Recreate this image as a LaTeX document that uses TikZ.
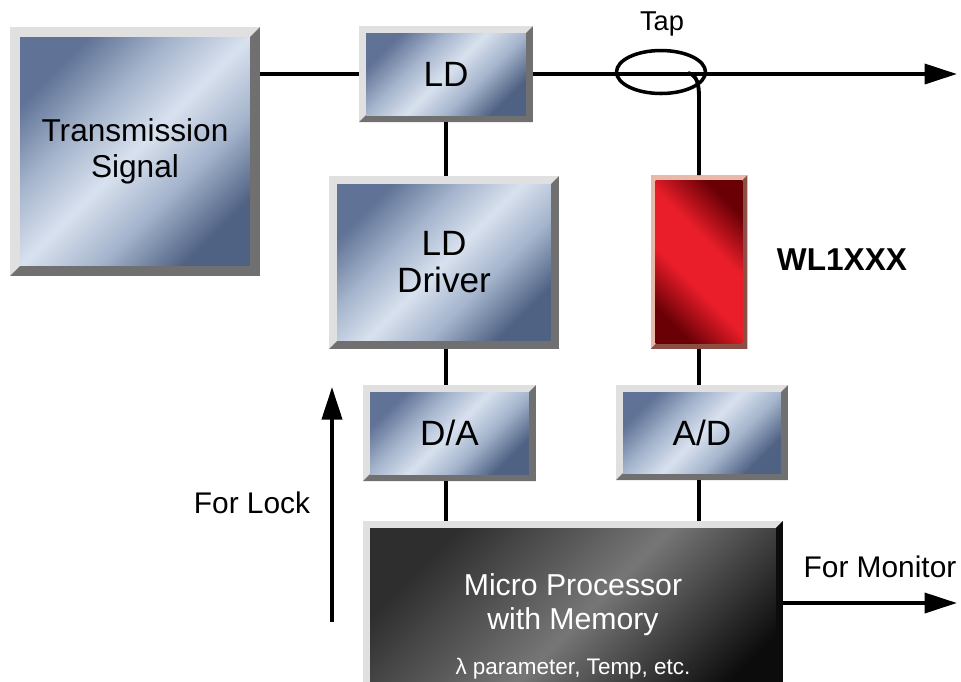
\documentclass[tikz,border=0pt]{standalone}
\usepackage{fontspec}
\setmainfont{Liberation Sans}
\usepackage{xcolor}
\usepackage{tikz}
\usetikzlibrary{arrows.meta,shapes.geometric}

\definecolor{slatedk}{RGB}{96,114,150}
\definecolor{slatedk2}{RGB}{80,98,132}
\definecolor{slatemid}{RGB}{164,180,204}
\definecolor{slatelt}{RGB}{216,225,238}
\definecolor{bevhi}{RGB}{224,224,224}
\definecolor{bevlo}{RGB}{112,112,112}
\definecolor{redbr}{RGB}{234,30,42}
\definecolor{reddk}{RGB}{106,0,6}
\definecolor{redhi}{RGB}{232,184,168}
\definecolor{redlo}{RGB}{138,78,68}
\definecolor{cpudk}{RGB}{46,46,46}
\definecolor{cpumid}{RGB}{118,118,118}
\definecolor{cpublk}{RGB}{12,12,12}

\pgfdeclareverticalshading{metal}{100bp}{color(0bp)=(slatedk2); color(25bp)=(slatedk2);
  color(38bp)=(slatemid); color(50bp)=(slatelt); color(62bp)=(slatemid);
  color(75bp)=(slatedk); color(100bp)=(slatedk)}
\pgfdeclareverticalshading{ruby}{100bp}{color(0bp)=(reddk); color(25bp)=(reddk);
  color(42bp)=(redbr); color(58bp)=(redbr); color(75bp)=(reddk); color(100bp)=(reddk)}
\pgfdeclareverticalshading{graphite}{100bp}{color(0bp)=(cpublk); color(25bp)=(cpublk);
  color(50bp)=(cpumid); color(75bp)=(cpudk); color(100bp)=(cpudk)}

\begin{document}
\begin{tikzpicture}[
    x=0.02cm, y=-0.02cm,
    font=\fontsize{17}{19}\selectfont,
    >={Triangle[length=6.5mm, width=4mm]},
    bevelw/.store in=\bevw, bevelw=1.4mm,
    hi/.store in=\hicol, hi=bevhi,
    lo/.store in=\locol, lo=bevlo,
    facefill/.style={shading=metal, shading angle=45},
    block/.style={inner sep=0pt, outer sep=0pt, align=center, fill=white,
                  font=\fontsize{20}{21}\selectfont,
                  path picture={
                    \fill[\hicol] (path picture bounding box.south west)
                      rectangle (path picture bounding box.north east);
                    \fill[\locol] (path picture bounding box.south west)
                      -- (path picture bounding box.south east)
                      -- (path picture bounding box.north east)
                      -- ([xshift=-\bevw, yshift=-\bevw]path picture bounding box.north east)
                      -- ([xshift=-\bevw, yshift=\bevw]path picture bounding box.south east)
                      -- ([xshift=\bevw, yshift=\bevw]path picture bounding box.south west)
                      -- cycle;
                    \shade[facefill] ([xshift=\bevw, yshift=\bevw]path picture bounding box.south west)
                      rectangle ([xshift=-\bevw, yshift=-\bevw]path picture bounding box.north east);
                  }},
    wire/.style={line width=2.2pt}
]
\useasboundingbox (0,0) rectangle (961,681);
\clip (0,0) rectangle (961,681);

% --- Blocks ---
\node[block, bevelw=2mm, minimum width=5cm, minimum height=4.98cm,
      font=\fontsize{18}{20.5}\selectfont] (sig) at (135,151.5) {Transmission\\Signal};
\node[block, minimum width=3.48cm, minimum height=1.92cm] (ld) at (446,74) {LD};
\node[block, bevelw=1.6mm, minimum width=4.6cm, minimum height=3.46cm] (drv) at (444,262.5) {LD\\Driver};
\node[block, minimum width=3.46cm, minimum height=1.92cm] (da) at (449.5,433) {D/A};
\node[block, minimum width=3.44cm, minimum height=1.9cm] (ad) at (702,432.5) {A/D};
\node[block, bevelw=1mm, hi=redhi, lo=redlo,
      facefill/.style={shading=ruby, shading angle=-45},
      minimum width=1.94cm, minimum height=3.48cm] (wl) at (699,262) {};
\node[block, lo=cpublk, facefill/.style={shading=graphite, shading angle=45},
      text=white, minimum width=8.4cm, minimum height=4.2cm,
      font=\fontsize{17.2}{19.5}\selectfont] (cpu) at (573,626)
  {Micro Processor\\with Memory\\[6pt]{\fontsize{12.8}{14}\selectfont λ parameter, Temp, etc.}};

% --- Tap and labels ---
\node[draw, ellipse, line width=2pt, inner sep=0pt,
      minimum width=1.78cm, minimum height=0.86cm] (tap) at (661,72) {};
\node[font=\fontsize{15.5}{17}\selectfont] (taplbl) at (662,24) {Tap};
\node (lock) at (252,503) {For Lock};
\node (mon) at (880,567) {For Monitor};
\node[font=\bfseries\fontsize{18}{20}\selectfont] (wlname) at (842,260) {WL1XXX};

\coordinate (outR) at (957,74);
\coordinate (monR) at (957,603);
\coordinate (lockB) at (332,622);
\coordinate (lockT) at (332,387);
\coordinate (tapin) at (688,73);

% --- Connectors ---
\draw[wire] (ld.west -| sig.east) -- (ld.west);
\draw[wire,->] (ld.east) -- (outR);
\draw[wire] (tapin) .. controls (697,75) and (699,84) .. (699,97) -- (wl.north);
\draw[wire] (ld.south) -- (ld.south |- drv.north);
\draw[wire] (ld.south |- drv.south) -- (ld.south |- da.north);
\draw[wire] (ld.south |- da.south) -- (ld.south |- cpu.north);
\draw[wire] (wl.south) -- (wl.south |- ad.north);
\draw[wire] (wl.south |- ad.south) -- (wl.south |- cpu.north);
\draw[wire,->] (cpu.east |- monR) -- (monR);
\draw[wire,->] (lockB) -- (lockT);

\end{tikzpicture}
\end{document}
